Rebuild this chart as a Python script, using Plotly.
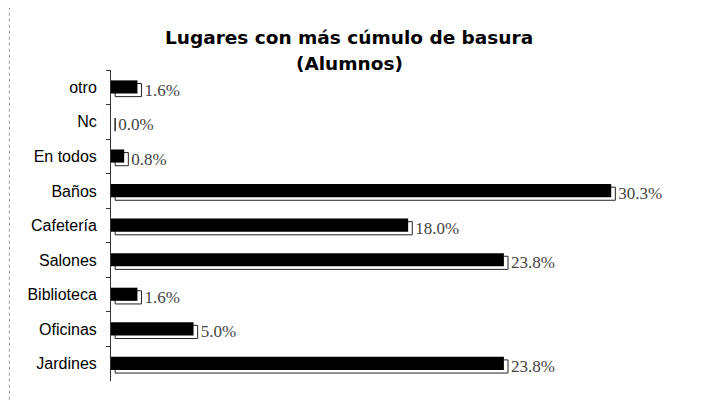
import plotly.graph_objects as go

categories = ["otro", "Nc", "En todos", "Baños", "Cafetería", "Salones", "Biblioteca", "Oficinas", "Jardines"]
values = [1.6, 0.0, 0.8, 30.3, 18.0, 23.8, 1.6, 5.0, 23.8]
labels = [f"{v:.1f}%" for v in values]
title_lines = ["Lugares con más cúmulo de basura", "(Alumnos)"]

fig = go.Figure()
# back "3D" outline bar
fig.add_trace(go.Bar(
    y=categories, x=values, base=0.25, orientation="h",
    width=0.38, offset=-0.11,
    marker=dict(color="white", line=dict(color="#222", width=1)),
    text=labels, textposition="outside", cliponaxis=False, constraintext="none",
    textfont=dict(family="Liberation Serif", size=17, color="#444"),
    hoverinfo="skip",
))
# front black bar
fig.add_trace(go.Bar(
    y=categories, x=values, orientation="h",
    width=0.38, offset=-0.2,
    marker=dict(color="black", line=dict(width=0)),
))

fig.update_layout(
    width=694, height=392, barmode="overlay", showlegend=False,
    paper_bgcolor="white", plot_bgcolor="white",
    margin=dict(l=103, r=0, t=62, b=19),
    xaxis=dict(range=[0, 35.8], visible=False),
    yaxis=dict(autorange="reversed", showline=True, linecolor="#333", linewidth=1,
               ticks="outside", ticklen=4, tickcolor="#333", tickson="boundaries",
               showgrid=False, ticklabelstandoff=10,
               tickfont=dict(family="Liberation Sans", size=16, color="black")),
)
for yy, txt in zip([1.106, 1.022], title_lines):
    fig.add_annotation(text=f"<b>{txt}</b>", xref="paper", yref="paper", x=0.403, y=yy,
                       xanchor="center", yanchor="middle", showarrow=False,
                       font=dict(family="DejaVu Sans", size=18.5, color="black"))
fig.add_shape(type="line", xref="paper", yref="paper", x0=-0.172, x1=-0.172, y0=-0.06, y1=1.2,
              line=dict(color="#999", width=1, dash="dot"))
fig.write_html("out.html")
